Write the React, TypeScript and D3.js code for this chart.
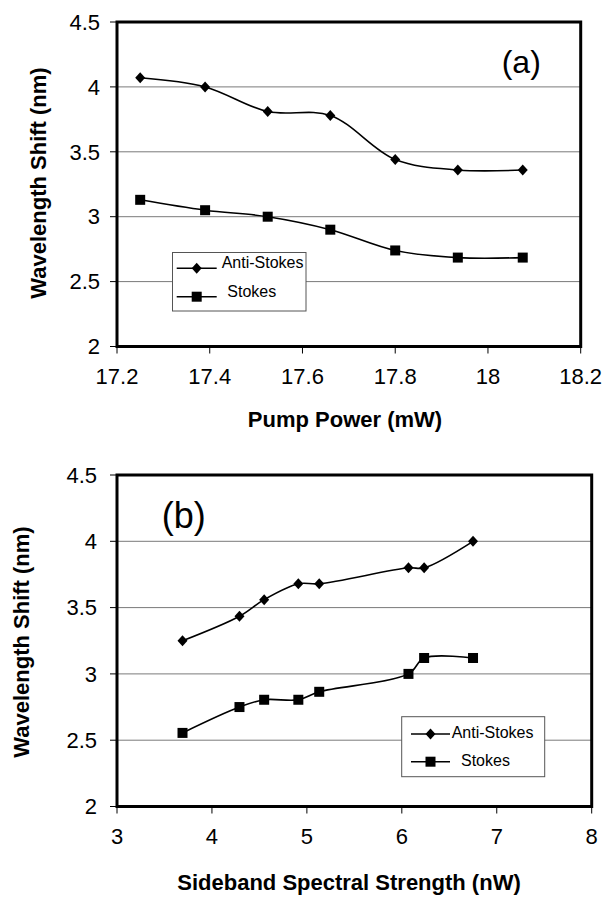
import React from "react";
import * as d3 from "d3";

// values
const pumpPower = [17.25, 17.39, 17.525, 17.66, 17.8, 17.935, 18.075];
const antiStokesA = [4.07, 4.0, 3.81, 3.78, 3.44, 3.36, 3.36];
const stokesA = [3.13, 3.05, 3.0, 2.9, 2.74, 2.685, 2.685];

const sidebandStrength = [3.69, 4.29, 4.55, 4.91, 5.13, 6.07, 6.235, 6.75];
const antiStokesB = [3.25, 3.435, 3.56, 3.68, 3.68, 3.8, 3.8, 4.0];
const stokesB = [2.555, 2.75, 2.805, 2.805, 2.865, 3.0, 3.12, 3.12];

const yTicks = [2, 2.5, 3, 3.5, 4, 4.5];
const xTicksA = [17.2, 17.4, 17.6, 17.8, 18, 18.2];
const xTicksB = [3, 4, 5, 6, 7, 8];
const seriesNames = ["Anti-Stokes", "Stokes"];

const FONT = "'Liberation Sans', Arial, Helvetica, sans-serif";

function Diamond({ x, y }: { x: number; y: number }) {
  return <path d={`M${x},${y - 5.5}L${x + 5},${y}L${x},${y + 5.5}L${x - 5},${y}Z`} fill="#000" />;
}

function Square({ x, y }: { x: number; y: number }) {
  return <rect x={x - 5} y={y - 5} width={10} height={10} fill="#000" />;
}

type PanelProps = {
  xs: number[];
  anti: number[];
  stokes: number[];
  xTicks: number[];
  box: { left: number; right: number; top: number; bottom: number };
  yLabelRight: number;
  xLabelBaseline: number;
  yTitle: { x: number; y: number };
  xTitle: { text: string; x: number; y: number };
  tag: { text: string; x: number; y: number; size: number };
  legend: {
    x: number; y: number; w: number; h: number;
    rows: number[]; lineX0: number; lineX1: number;
    textX: number[]; textDy: number;
  };
};

function Panel(p: PanelProps) {
  const { left, right, top, bottom } = p.box;
  const x = d3.scaleLinear().domain([p.xTicks[0], p.xTicks[p.xTicks.length - 1]]).range([left, right]);
  const y = d3.scaleLinear().domain([2, 4.5]).range([bottom, top]);
  const line = d3
    .line<number>()
    .x((_, i) => x(p.xs[i]))
    .y((d) => y(d))
    .curve(d3.curveCatmullRom.alpha(0.5));

  const lg = p.legend;
  const mx = (lg.lineX0 + lg.lineX1) / 2;

  return (
    <g>
      {/* grid */}
      {yTicks.slice(1, -1).map((t) => (
        <line key={t} x1={left} x2={right} y1={y(t)} y2={y(t)} stroke="#7a7a7a" strokeWidth={1} />
      ))}
      {/* ticks */}
      {yTicks.map((t) => (
        <g key={"y" + t}>
          <line x1={left - 7} x2={left} y1={y(t)} y2={y(t)} stroke="#000" />
          <text x={p.yLabelRight} y={y(t)} dy="0.35em" textAnchor="end" fontSize={22} fontFamily={FONT}>
            {String(t)}
          </text>
        </g>
      ))}
      {p.xTicks.map((t) => (
        <g key={"x" + t}>
          <line x1={x(t)} x2={x(t)} y1={bottom} y2={bottom + 7} stroke="#000" />
          <text x={x(t)} y={p.xLabelBaseline} textAnchor="middle" fontSize={22} fontFamily={FONT}>
            {String(t)}
          </text>
        </g>
      ))}
      {/* frame */}
      <rect x={left} y={top} width={right - left} height={bottom - top} fill="none" stroke="#000" strokeWidth={3} />

      {/* series */}
      <path d={line(p.anti) || ""} fill="none" stroke="#000" strokeWidth={1.6} />
      <path d={line(p.stokes) || ""} fill="none" stroke="#000" strokeWidth={1.6} />
      {p.anti.map((v, i) => (
        <Diamond key={"a" + i} x={x(p.xs[i])} y={y(v)} />
      ))}
      {p.stokes.map((v, i) => (
        <Square key={"s" + i} x={x(p.xs[i])} y={y(v)} />
      ))}

      {/* legend */}
      <rect x={lg.x} y={lg.y} width={lg.w} height={lg.h} fill="#fff" stroke="#555" strokeWidth={1} />
      {seriesNames.map((name, i) => (
        <g key={name}>
          <line x1={lg.lineX0} x2={lg.lineX1} y1={lg.rows[i]} y2={lg.rows[i]} stroke="#000" strokeWidth={1.6} />
          {i === 0 ? <Diamond x={mx} y={lg.rows[i]} /> : <Square x={mx} y={lg.rows[i]} />}
          <text x={lg.textX[i]} y={lg.rows[i] + lg.textDy} fontSize={16} fontFamily={FONT}>
            {name}
          </text>
        </g>
      ))}

      {/* titles */}
      <text
        transform={`translate(${p.yTitle.x},${p.yTitle.y}) rotate(-90)`}
        textAnchor="middle"
        fontSize={22}
        fontWeight="bold"
        fontFamily={FONT}
      >
        Wavelength Shift (nm)
      </text>
      <text x={p.xTitle.x} y={p.xTitle.y} textAnchor="middle" fontSize={22} fontWeight="bold" fontFamily={FONT}>
        {p.xTitle.text}
      </text>
      <text x={p.tag.x} y={p.tag.y} fontSize={p.tag.size} fontFamily={FONT}>
        {p.tag.text}
      </text>
    </g>
  );
}

export default function App() {
  return (
    <div style={{ position: "absolute", left: 0, top: 0 }}>
      <svg width={611} height={898} style={{ display: "block", background: "#fff" }}>
        <Panel
          xs={pumpPower}
          anti={antiStokesA}
          stokes={stokesA}
          xTicks={xTicksA}
          box={{ left: 117, right: 580.7, top: 22, bottom: 346.5 }}
          yLabelRight={100}
          xLabelBaseline={384}
          yTitle={{ x: 46, y: 183 }}
          xTitle={{ text: "Pump Power (mW)", x: 345, y: 427 }}
          tag={{ text: "(a)", x: 501.7, y: 73, size: 32 }}
          legend={{
            x: 172.5, y: 252.5, w: 133.5, h: 58.5,
            rows: [268.3, 296.7], lineX0: 176.7, lineX1: 216.7,
            textX: [221.7, 227.3], textDy: 0,
          }}
        />
        <Panel
          xs={sidebandStrength}
          anti={antiStokesB}
          stokes={stokesB}
          xTicks={xTicksB}
          box={{ left: 117, right: 591.7, top: 475, bottom: 806.5 }}
          yLabelRight={97}
          xLabelBaseline={844}
          yTitle={{ x: 29, y: 642 }}
          xTitle={{ text: "Sideband Spectral Strength (nW)", x: 349, y: 890 }}
          tag={{ text: "(b)", x: 161.7, y: 528, size: 36 }}
          legend={{
            x: 401.7, y: 716.7, w: 143, h: 60,
            rows: [734, 761.7], lineX0: 411, lineX1: 450,
            textX: [451.7, 461], textDy: 4,
          }}
        />
      </svg>
    </div>
  );
}
